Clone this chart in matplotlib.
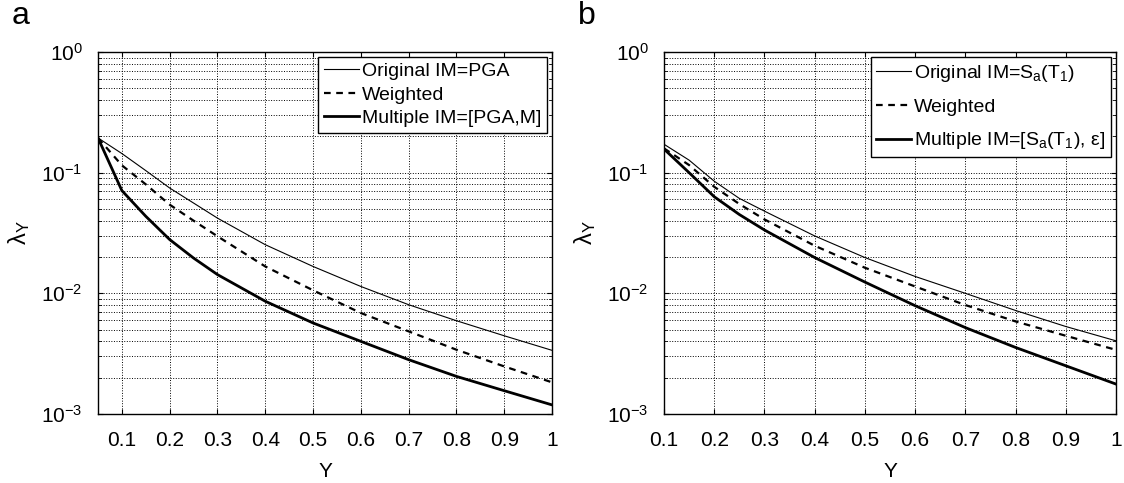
import numpy as np
import matplotlib.pyplot as plt
from matplotlib.ticker import LogLocator, LogFormatterMathtext, NullFormatter

plt.rcParams['font.family'] = ['Liberation Sans', 'DejaVu Sans']
plt.rcParams['mathtext.default'] = 'regular'
plt.rcParams['axes.unicode_minus'] = False
plt.rcParams['font.size'] = 13

# panel a: IM = PGA
y_a = [0.05, 0.1, 0.15, 0.2, 0.25, 0.3, 0.4, 0.5, 0.6, 0.7, 0.8, 0.9, 1.0]
orig_a = [0.194, 0.144, 0.104, 0.0746, 0.056, 0.042, 0.0253, 0.0167, 0.0114, 0.00805, 0.00593, 0.00445, 0.00337]
weig_a = [0.194, 0.115, 0.080, 0.0543, 0.040, 0.0297, 0.0167, 0.0106, 0.00687, 0.00484, 0.00341, 0.00248, 0.00183]
mult_a = [0.194, 0.071, 0.0435, 0.0279, 0.0196, 0.0143, 0.0086, 0.00568, 0.0040, 0.00282, 0.00205, 0.00156, 0.00119]

# panel b: IM = Sa(T1)
y_b = [0.1, 0.15, 0.2, 0.25, 0.3, 0.4, 0.5, 0.6, 0.7, 0.8, 0.9, 1.0]
orig_b = [0.172, 0.127, 0.085, 0.0612, 0.048, 0.0299, 0.0198, 0.0138, 0.0100, 0.00721, 0.00531, 0.00404]
weig_b = [0.159, 0.1156, 0.0764, 0.055, 0.041, 0.0248, 0.0163, 0.0114, 0.0080, 0.00585, 0.00445, 0.0034]
mult_b = [0.157, 0.100, 0.0632, 0.045, 0.0335, 0.0198, 0.0124, 0.0079, 0.0052, 0.00356, 0.00251, 0.00177]

labels_a = ['Original IM=PGA', 'Weighted', 'Multiple IM=[PGA,M]']
labels_b = ['Original IM=S$_a$(T$_1$)', 'Weighted', 'Multiple IM=[S$_a$(T$_1$), ε]']
xticks = [0.1, 0.2, 0.3, 0.4, 0.5, 0.6, 0.7, 0.8, 0.9, 1.0]
xticklabels = ['0.1', '0.2', '0.3', '0.4', '0.5', '0.6', '0.7', '0.8', '0.9', '1']

fig = plt.figure(figsize=(11.24, 4.83), dpi=100)
ax1 = fig.add_axes([98 / 1124, 1 - 414 / 483, 454 / 1124, 362 / 483])
ax2 = fig.add_axes([664 / 1124, 1 - 414 / 483, 452 / 1124, 362 / 483])


def draw(ax, x, orig, weig, mult, labels, xmin, tag, spacing):
    ax.semilogy(x, orig, color='black', lw=0.8, label=labels[0])
    ax.semilogy(x, weig, color='black', lw=1.6, ls=(0, (3, 2.5)), label=labels[1])
    ax.semilogy(x, mult, color='black', lw=2.0, label=labels[2])
    ax.set_xlim(xmin, 1)
    ax.set_ylim(1e-3, 1)
    ax.set_xticks(xticks)
    ax.set_xticklabels(xticklabels)
    ax.yaxis.set_major_locator(LogLocator(base=10, numticks=10))
    ax.yaxis.set_major_formatter(LogFormatterMathtext())
    ax.yaxis.set_minor_locator(LogLocator(base=10, subs=np.arange(2, 10), numticks=20))
    ax.yaxis.set_minor_formatter(NullFormatter())
    ax.grid(True, which='major', ls=':', color='black', lw=0.7)
    ax.grid(True, which='minor', axis='y', ls=':', color='black', lw=0.7)
    ax.tick_params(direction='in', top=True, right=True, which='both', labelsize=15)
    ax.tick_params(axis='x', pad=12)
    ax.tick_params(axis='y', pad=11)
    ax.tick_params(which='minor', length=2)
    for s in ax.spines.values():
        s.set_linewidth(1.0)
    ax.set_xlabel('Y', fontsize=15, labelpad=9)
    ax.set_ylabel(r'$\lambda_Y$', fontsize=17, labelpad=7)
    leg = ax.legend(loc='upper right', fontsize=14, handlelength=1.8, handletextpad=0.15,
                    labelspacing=spacing, borderaxespad=0.25, borderpad=0.3, fancybox=False,
                    framealpha=1, edgecolor='black')
    leg.get_frame().set_linewidth(1.0)
    ax.text(-0.19, 1.1, tag, transform=ax.transAxes, fontsize=23, va='center', ha='left')


draw(ax1, y_a, orig_a, weig_a, mult_a, labels_a, 0.05, 'a', 0.3)
draw(ax2, y_b, orig_b, weig_b, mult_b, labels_b, 0.1, 'b', 0.75)

fig.savefig('out.png', dpi=100)
